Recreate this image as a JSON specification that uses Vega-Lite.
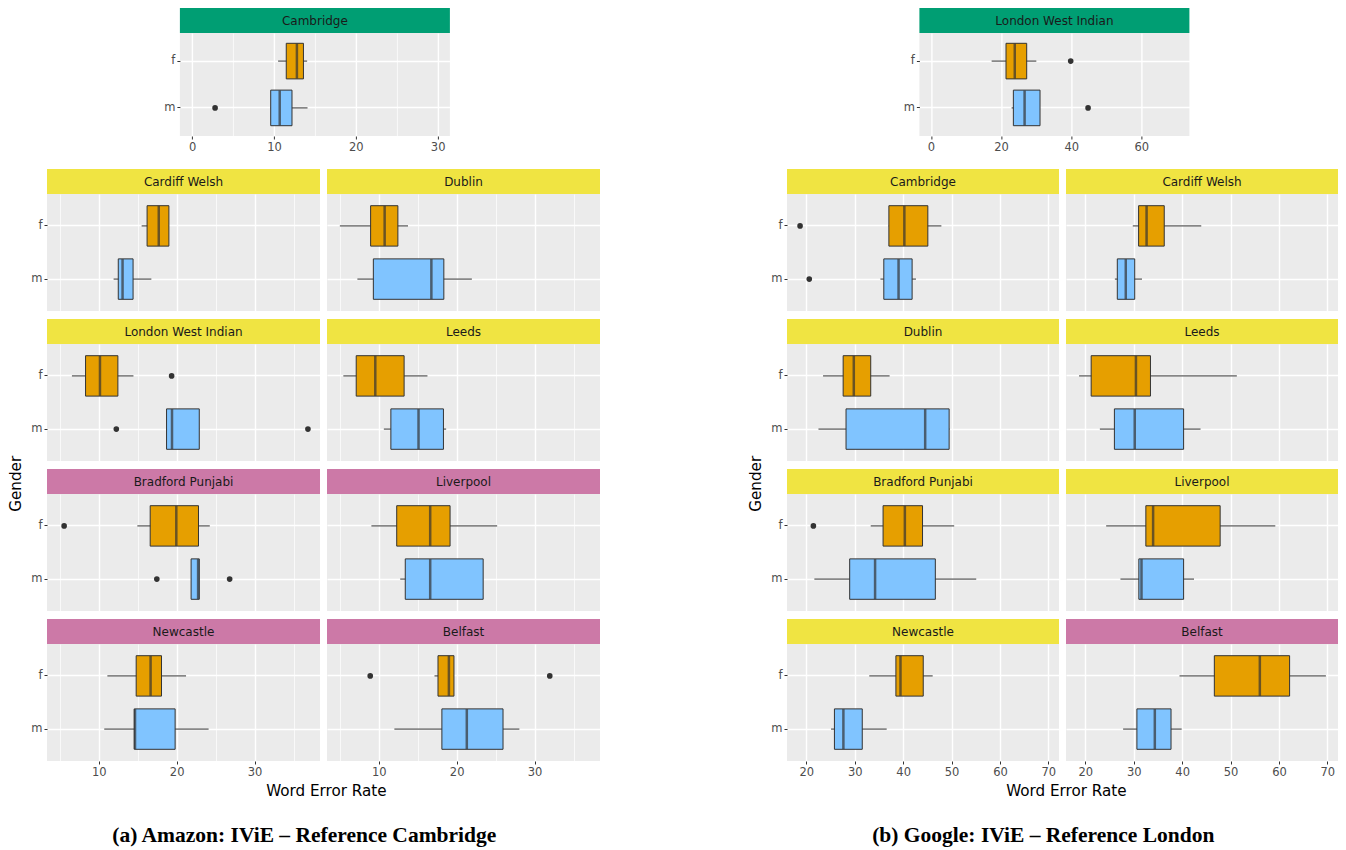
{
"$schema": "https://vega.github.io/schema/vega-lite/v6.json",
"padding": {"left": 8, "top": 8, "right": 5, "bottom": 5},
"background": "white",
"datasets": {
"box": [
{"panel":"A0","gender":"f","lo":10.5,"q1":11.5,"med":12.8,"q3":13.6,"hi":14.05},
{"panel":"A0","gender":"m","lo":9.6,"q1":9.6,"med":10.7,"q3":12.2,"hi":14.1},
{"panel":"A1","gender":"f","lo":15.5,"q1":16.2,"med":17.7,"q3":19.0,"hi":19.0},
{"panel":"A1","gender":"m","lo":11.9,"q1":12.5,"med":13.05,"q3":14.4,"hi":16.75},
{"panel":"A2","gender":"f","lo":5.0,"q1":8.95,"med":10.75,"q3":12.45,"hi":13.75},
{"panel":"A2","gender":"m","lo":7.25,"q1":9.3,"med":16.75,"q3":18.35,"hi":21.95},
{"panel":"A3","gender":"f","lo":6.55,"q1":8.3,"med":10.15,"q3":12.45,"hi":14.45},
{"panel":"A3","gender":"m","lo":18.7,"q1":18.7,"med":19.4,"q3":22.9,"hi":22.9},
{"panel":"A4","gender":"f","lo":5.45,"q1":7.1,"med":9.55,"q3":13.25,"hi":16.25},
{"panel":"A4","gender":"m","lo":10.65,"q1":11.55,"med":15.1,"q3":18.3,"hi":18.65},
{"panel":"A5","gender":"f","lo":14.95,"q1":16.6,"med":19.95,"q3":22.8,"hi":24.25},
{"panel":"A5","gender":"m","lo":21.85,"q1":21.85,"med":22.75,"q3":22.9,"hi":22.9},
{"panel":"A6","gender":"f","lo":9.05,"q1":12.3,"med":16.6,"q3":19.15,"hi":25.2},
{"panel":"A6","gender":"m","lo":12.75,"q1":13.4,"med":16.6,"q3":23.4,"hi":23.4},
{"panel":"A7","gender":"f","lo":11.1,"q1":14.8,"med":16.65,"q3":18.05,"hi":21.2},
{"panel":"A7","gender":"m","lo":10.7,"q1":14.55,"med":14.65,"q3":19.8,"hi":24.1},
{"panel":"A8","gender":"f","lo":17.15,"q1":17.6,"med":19.0,"q3":19.65,"hi":19.65},
{"panel":"A8","gender":"m","lo":12.0,"q1":18.1,"med":21.3,"q3":25.95,"hi":28.05},
{"panel":"B0","gender":"f","lo":17.3,"q1":21.4,"med":23.9,"q3":27.3,"hi":30.05},
{"panel":"B0","gender":"m","lo":23.0,"q1":23.5,"med":26.7,"q3":31.1,"hi":31.1},
{"panel":"B1","gender":"f","lo":37.0,"q1":37.05,"med":40.25,"q3":45.1,"hi":47.9},
{"panel":"B1","gender":"m","lo":35.3,"q1":36.0,"med":39.05,"q3":41.85,"hi":42.65},
{"panel":"B2","gender":"f","lo":29.8,"q1":31.0,"med":32.65,"q3":36.3,"hi":43.95},
{"panel":"B2","gender":"m","lo":26.1,"q1":26.6,"med":28.35,"q3":30.2,"hi":31.7},
{"panel":"B3","gender":"f","lo":23.45,"q1":27.6,"med":29.8,"q3":33.3,"hi":37.2},
{"panel":"B3","gender":"m","lo":22.5,"q1":28.2,"med":44.55,"q3":49.5,"hi":49.6},
{"panel":"B4","gender":"f","lo":18.7,"q1":21.2,"med":30.45,"q3":33.45,"hi":51.3},
{"panel":"B4","gender":"m","lo":23.0,"q1":26.0,"med":30.2,"q3":40.3,"hi":43.8},
{"panel":"B5","gender":"f","lo":33.3,"q1":35.85,"med":40.35,"q3":44.0,"hi":50.55},
{"panel":"B5","gender":"m","lo":21.65,"q1":28.95,"med":34.2,"q3":46.65,"hi":55.1},
{"panel":"B6","gender":"f","lo":24.3,"q1":32.5,"med":34.0,"q3":47.85,"hi":59.25},
{"panel":"B6","gender":"m","lo":27.25,"q1":31.05,"med":31.6,"q3":40.3,"hi":42.45},
{"panel":"B7","gender":"f","lo":33.0,"q1":38.5,"med":39.45,"q3":44.15,"hi":46.1},
{"panel":"B7","gender":"m","lo":25.1,"q1":25.8,"med":27.65,"q3":31.55,"hi":36.6},
{"panel":"B8","gender":"f","lo":39.45,"q1":46.65,"med":56.05,"q3":62.2,"hi":69.7},
{"panel":"B8","gender":"m","lo":27.8,"q1":30.65,"med":34.35,"q3":37.7,"hi":39.9}
],
"out": [
{"panel":"A0","gender":"m","value":2.8},
{"panel":"A3","gender":"f","value":19.35},
{"panel":"A3","gender":"m","value":12.25},
{"panel":"A3","gender":"m","value":36.85},
{"panel":"A5","gender":"f","value":5.55},
{"panel":"A5","gender":"m","value":17.45},
{"panel":"A5","gender":"m","value":26.8},
{"panel":"A8","gender":"f","value":8.9},
{"panel":"A8","gender":"f","value":31.95},
{"panel":"B0","gender":"f","value":39.85},
{"panel":"B0","gender":"m","value":44.8},
{"panel":"B1","gender":"f","value":18.7},
{"panel":"B1","gender":"m","value":20.6},
{"panel":"B5","gender":"f","value":21.45}
],
"strips": [
{"panel":"A0","region":"Cambridge"},
{"panel":"A1","region":"Cardiff Welsh"},
{"panel":"A2","region":"Dublin"},
{"panel":"A3","region":"London West Indian"},
{"panel":"A4","region":"Leeds"},
{"panel":"A5","region":"Bradford Punjabi"},
{"panel":"A6","region":"Liverpool"},
{"panel":"A7","region":"Newcastle"},
{"panel":"A8","region":"Belfast"},
{"panel":"B0","region":"London West Indian"},
{"panel":"B1","region":"Cambridge"},
{"panel":"B2","region":"Cardiff Welsh"},
{"panel":"B3","region":"Dublin"},
{"panel":"B4","region":"Leeds"},
{"panel":"B5","region":"Bradford Punjabi"},
{"panel":"B6","region":"Liverpool"},
{"panel":"B7","region":"Newcastle"},
{"panel":"B8","region":"Belfast"}
]
},
"config": {
"view": {"fill": "#EBEBEB", "stroke": null},
"font": "DejaVu Sans",
"axis": {"domain": false, "gridColor": "#FFFFFF", "tickColor": "#333333", "tickSize": 3, "labelColor": "#4D4D4D", "labelFontSize": 11.5, "labelFont": "DejaVu Sans", "labelPadding": 2},
"axisY": {"bandPosition": 0.5, "gridWidth": 1.4},
"rule": {"color": "#333333", "strokeWidth": 1},
"bar": {"stroke": "#333333", "strokeWidth": 1},
"tick": {"color": "#333333", "thickness": 2.5},
"point": {"filled": true, "color": "#333333", "size": 32, "opacity": 1},
"text": {"fontSize": 12, "color": "#1A1A1A", "font": "DejaVu Sans"},
"title": {"font": "DejaVu Sans", "fontSize": 15.2, "fontWeight": "normal", "color": "#000000"}
},
"spacing": 148,
"hconcat": [
{
"spacing": 16, "center": true,
"title": {"text": "(a) Amazon: IViE – Reference Cambridge", "orient": "bottom", "anchor": "middle", "font": "Liberation Serif", "fontSize": 21.5, "fontWeight": "bold", "color": "#000000", "offset": 26},
"vconcat": [
{"bounds": "flush", "spacing": 0, "vconcat": [
{"width": 270, "height": 25, "view": {"fill": "#009E73", "stroke": null}, "data": {"name": "strips"}, "transform": [{"filter": "datum.panel === 'A0'"}], "mark": "text", "encoding": {"text": {"field": "region", "type": "nominal"}}},
{"width": 270, "height": 103, "resolve": {"axis": {"y": "independent"}}, "layer": [
{"data": {"name": "box"}, "transform": [{"filter": "datum.panel === 'A0'"}], "mark": "rule", "encoding": {"y": {"field": "gender", "type": "nominal", "scale": {"domain": ["f","m"], "paddingInner": 0.24, "paddingOuter": 0.22}, "axis": {"title": null, "grid": true}}, "x": {"field": "lo", "type": "quantitative", "scale": {"domain": [-1.5, 31.5], "nice": false, "zero": false}, "axis": {"title": null, "values": [0,5,10,15,20,25,30], "grid": true, "gridWidth": {"condition": {"test": "datum.value % 10 === 0", "value": 1.4}, "value": 0.7}, "labelExpr": "datum.value % 10 === 0 ? datum.label : ''", "tickOpacity": {"condition": {"test": "datum.value % 10 === 0", "value": 1}, "value": 0}}}, "x2": {"field": "hi"}}},
{"data": {"name": "box"}, "transform": [{"filter": "datum.panel === 'A0'"}], "mark": "bar", "encoding": {"y": {"field": "gender", "type": "nominal", "axis": null}, "x": {"field": "q1", "type": "quantitative"}, "x2": {"field": "q3"}, "fill": {"field": "gender", "type": "nominal", "scale": {"domain": ["f","m"], "range": ["#E69F00","#80C4FF"]}, "legend": null}}},
{"data": {"name": "box"}, "transform": [{"filter": "datum.panel === 'A0'"}], "mark": {"type": "tick", "size": 35}, "encoding": {"y": {"field": "gender", "type": "nominal", "axis": null}, "x": {"field": "med", "type": "quantitative"}}},
{"data": {"name": "out"}, "transform": [{"filter": "datum.panel === 'A0'"}], "mark": "point", "encoding": {"y": {"field": "gender", "type": "nominal", "axis": {"orient": "right", "title": null, "grid": false, "ticks": false, "labelOpacity": 0, "labelPadding": 6}}, "x": {"field": "value", "type": "quantitative"}}}
]}
]},
{"title": {"text": "Gender", "orient": "left", "anchor": "middle", "offset": 7},
"vconcat": [
{"title": {"text": "Word Error Rate", "orient": "bottom", "anchor": "middle", "offset": 6, "dx": 11},
"spacing": 8,
"vconcat": [
{"spacing": 7, "hconcat": [
{"bounds": "flush", "spacing": 0, "vconcat": [
{"width": 273, "height": 25, "view": {"fill": "#F0E442", "stroke": null}, "data": {"name": "strips"}, "transform": [{"filter": "datum.panel === 'A1'"}], "mark": "text", "encoding": {"text": {"field": "region", "type": "nominal"}}},
{"width": 273, "height": 117, "layer": [
{"data": {"name": "box"}, "transform": [{"filter": "datum.panel === 'A1'"}], "mark": "rule", "encoding": {"y": {"field": "gender", "type": "nominal", "scale": {"domain": ["f","m"], "paddingInner": 0.24, "paddingOuter": 0.22}, "axis": {"title": null, "grid": true}}, "x": {"field": "lo", "type": "quantitative", "scale": {"domain": [3.35, 38.4], "nice": false, "zero": false}, "axis": {"title": null, "values": [5,10,15,20,25,30,35], "labels": false, "ticks": false, "grid": true, "gridWidth": {"condition": {"test": "datum.value % 10 === 0", "value": 1.4}, "value": 0.7}}}, "x2": {"field": "hi"}}},
{"data": {"name": "box"}, "transform": [{"filter": "datum.panel === 'A1'"}], "mark": "bar", "encoding": {"y": {"field": "gender", "type": "nominal"}, "x": {"field": "q1", "type": "quantitative"}, "x2": {"field": "q3"}, "fill": {"field": "gender", "type": "nominal", "scale": {"domain": ["f","m"], "range": ["#E69F00","#80C4FF"]}, "legend": null}}},
{"data": {"name": "box"}, "transform": [{"filter": "datum.panel === 'A1'"}], "mark": {"type": "tick", "size": 40}, "encoding": {"y": {"field": "gender", "type": "nominal"}, "x": {"field": "med", "type": "quantitative"}}},
{"data": {"name": "out"}, "transform": [{"filter": "datum.panel === 'A1'"}], "mark": "point", "encoding": {"y": {"field": "gender", "type": "nominal"}, "x": {"field": "value", "type": "quantitative"}}}
]}
]},
{"bounds": "flush", "spacing": 0, "vconcat": [
{"width": 273, "height": 25, "view": {"fill": "#F0E442", "stroke": null}, "data": {"name": "strips"}, "transform": [{"filter": "datum.panel === 'A2'"}], "mark": "text", "encoding": {"text": {"field": "region", "type": "nominal"}}},
{"width": 273, "height": 117, "layer": [
{"data": {"name": "box"}, "transform": [{"filter": "datum.panel === 'A2'"}], "mark": "rule", "encoding": {"y": {"field": "gender", "type": "nominal", "scale": {"domain": ["f","m"], "paddingInner": 0.24, "paddingOuter": 0.22}, "axis": {"title": null, "grid": true, "labels": false, "ticks": false}}, "x": {"field": "lo", "type": "quantitative", "scale": {"domain": [3.35, 38.4], "nice": false, "zero": false}, "axis": {"title": null, "values": [5,10,15,20,25,30,35], "labels": false, "ticks": false, "grid": true, "gridWidth": {"condition": {"test": "datum.value % 10 === 0", "value": 1.4}, "value": 0.7}}}, "x2": {"field": "hi"}}},
{"data": {"name": "box"}, "transform": [{"filter": "datum.panel === 'A2'"}], "mark": "bar", "encoding": {"y": {"field": "gender", "type": "nominal"}, "x": {"field": "q1", "type": "quantitative"}, "x2": {"field": "q3"}, "fill": {"field": "gender", "type": "nominal", "scale": {"domain": ["f","m"], "range": ["#E69F00","#80C4FF"]}, "legend": null}}},
{"data": {"name": "box"}, "transform": [{"filter": "datum.panel === 'A2'"}], "mark": {"type": "tick", "size": 40}, "encoding": {"y": {"field": "gender", "type": "nominal"}, "x": {"field": "med", "type": "quantitative"}}},
{"data": {"name": "out"}, "transform": [{"filter": "datum.panel === 'A2'"}], "mark": "point", "encoding": {"y": {"field": "gender", "type": "nominal"}, "x": {"field": "value", "type": "quantitative"}}}
]}
]}
]},
{"spacing": 7, "hconcat": [
{"bounds": "flush", "spacing": 0, "vconcat": [
{"width": 273, "height": 25, "view": {"fill": "#F0E442", "stroke": null}, "data": {"name": "strips"}, "transform": [{"filter": "datum.panel === 'A3'"}], "mark": "text", "encoding": {"text": {"field": "region", "type": "nominal"}}},
{"width": 273, "height": 117, "layer": [
{"data": {"name": "box"}, "transform": [{"filter": "datum.panel === 'A3'"}], "mark": "rule", "encoding": {"y": {"field": "gender", "type": "nominal", "scale": {"domain": ["f","m"], "paddingInner": 0.24, "paddingOuter": 0.22}, "axis": {"title": null, "grid": true}}, "x": {"field": "lo", "type": "quantitative", "scale": {"domain": [3.35, 38.4], "nice": false, "zero": false}, "axis": {"title": null, "values": [5,10,15,20,25,30,35], "labels": false, "ticks": false, "grid": true, "gridWidth": {"condition": {"test": "datum.value % 10 === 0", "value": 1.4}, "value": 0.7}}}, "x2": {"field": "hi"}}},
{"data": {"name": "box"}, "transform": [{"filter": "datum.panel === 'A3'"}], "mark": "bar", "encoding": {"y": {"field": "gender", "type": "nominal"}, "x": {"field": "q1", "type": "quantitative"}, "x2": {"field": "q3"}, "fill": {"field": "gender", "type": "nominal", "scale": {"domain": ["f","m"], "range": ["#E69F00","#80C4FF"]}, "legend": null}}},
{"data": {"name": "box"}, "transform": [{"filter": "datum.panel === 'A3'"}], "mark": {"type": "tick", "size": 40}, "encoding": {"y": {"field": "gender", "type": "nominal"}, "x": {"field": "med", "type": "quantitative"}}},
{"data": {"name": "out"}, "transform": [{"filter": "datum.panel === 'A3'"}], "mark": "point", "encoding": {"y": {"field": "gender", "type": "nominal"}, "x": {"field": "value", "type": "quantitative"}}}
]}
]},
{"bounds": "flush", "spacing": 0, "vconcat": [
{"width": 273, "height": 25, "view": {"fill": "#F0E442", "stroke": null}, "data": {"name": "strips"}, "transform": [{"filter": "datum.panel === 'A4'"}], "mark": "text", "encoding": {"text": {"field": "region", "type": "nominal"}}},
{"width": 273, "height": 117, "layer": [
{"data": {"name": "box"}, "transform": [{"filter": "datum.panel === 'A4'"}], "mark": "rule", "encoding": {"y": {"field": "gender", "type": "nominal", "scale": {"domain": ["f","m"], "paddingInner": 0.24, "paddingOuter": 0.22}, "axis": {"title": null, "grid": true, "labels": false, "ticks": false}}, "x": {"field": "lo", "type": "quantitative", "scale": {"domain": [3.35, 38.4], "nice": false, "zero": false}, "axis": {"title": null, "values": [5,10,15,20,25,30,35], "labels": false, "ticks": false, "grid": true, "gridWidth": {"condition": {"test": "datum.value % 10 === 0", "value": 1.4}, "value": 0.7}}}, "x2": {"field": "hi"}}},
{"data": {"name": "box"}, "transform": [{"filter": "datum.panel === 'A4'"}], "mark": "bar", "encoding": {"y": {"field": "gender", "type": "nominal"}, "x": {"field": "q1", "type": "quantitative"}, "x2": {"field": "q3"}, "fill": {"field": "gender", "type": "nominal", "scale": {"domain": ["f","m"], "range": ["#E69F00","#80C4FF"]}, "legend": null}}},
{"data": {"name": "box"}, "transform": [{"filter": "datum.panel === 'A4'"}], "mark": {"type": "tick", "size": 40}, "encoding": {"y": {"field": "gender", "type": "nominal"}, "x": {"field": "med", "type": "quantitative"}}},
{"data": {"name": "out"}, "transform": [{"filter": "datum.panel === 'A4'"}], "mark": "point", "encoding": {"y": {"field": "gender", "type": "nominal"}, "x": {"field": "value", "type": "quantitative"}}}
]}
]}
]},
{"spacing": 7, "hconcat": [
{"bounds": "flush", "spacing": 0, "vconcat": [
{"width": 273, "height": 25, "view": {"fill": "#CC79A7", "stroke": null}, "data": {"name": "strips"}, "transform": [{"filter": "datum.panel === 'A5'"}], "mark": "text", "encoding": {"text": {"field": "region", "type": "nominal"}}},
{"width": 273, "height": 117, "layer": [
{"data": {"name": "box"}, "transform": [{"filter": "datum.panel === 'A5'"}], "mark": "rule", "encoding": {"y": {"field": "gender", "type": "nominal", "scale": {"domain": ["f","m"], "paddingInner": 0.24, "paddingOuter": 0.22}, "axis": {"title": null, "grid": true}}, "x": {"field": "lo", "type": "quantitative", "scale": {"domain": [3.35, 38.4], "nice": false, "zero": false}, "axis": {"title": null, "values": [5,10,15,20,25,30,35], "labels": false, "ticks": false, "grid": true, "gridWidth": {"condition": {"test": "datum.value % 10 === 0", "value": 1.4}, "value": 0.7}}}, "x2": {"field": "hi"}}},
{"data": {"name": "box"}, "transform": [{"filter": "datum.panel === 'A5'"}], "mark": "bar", "encoding": {"y": {"field": "gender", "type": "nominal"}, "x": {"field": "q1", "type": "quantitative"}, "x2": {"field": "q3"}, "fill": {"field": "gender", "type": "nominal", "scale": {"domain": ["f","m"], "range": ["#E69F00","#80C4FF"]}, "legend": null}}},
{"data": {"name": "box"}, "transform": [{"filter": "datum.panel === 'A5'"}], "mark": {"type": "tick", "size": 40}, "encoding": {"y": {"field": "gender", "type": "nominal"}, "x": {"field": "med", "type": "quantitative"}}},
{"data": {"name": "out"}, "transform": [{"filter": "datum.panel === 'A5'"}], "mark": "point", "encoding": {"y": {"field": "gender", "type": "nominal"}, "x": {"field": "value", "type": "quantitative"}}}
]}
]},
{"bounds": "flush", "spacing": 0, "vconcat": [
{"width": 273, "height": 25, "view": {"fill": "#CC79A7", "stroke": null}, "data": {"name": "strips"}, "transform": [{"filter": "datum.panel === 'A6'"}], "mark": "text", "encoding": {"text": {"field": "region", "type": "nominal"}}},
{"width": 273, "height": 117, "layer": [
{"data": {"name": "box"}, "transform": [{"filter": "datum.panel === 'A6'"}], "mark": "rule", "encoding": {"y": {"field": "gender", "type": "nominal", "scale": {"domain": ["f","m"], "paddingInner": 0.24, "paddingOuter": 0.22}, "axis": {"title": null, "grid": true, "labels": false, "ticks": false}}, "x": {"field": "lo", "type": "quantitative", "scale": {"domain": [3.35, 38.4], "nice": false, "zero": false}, "axis": {"title": null, "values": [5,10,15,20,25,30,35], "labels": false, "ticks": false, "grid": true, "gridWidth": {"condition": {"test": "datum.value % 10 === 0", "value": 1.4}, "value": 0.7}}}, "x2": {"field": "hi"}}},
{"data": {"name": "box"}, "transform": [{"filter": "datum.panel === 'A6'"}], "mark": "bar", "encoding": {"y": {"field": "gender", "type": "nominal"}, "x": {"field": "q1", "type": "quantitative"}, "x2": {"field": "q3"}, "fill": {"field": "gender", "type": "nominal", "scale": {"domain": ["f","m"], "range": ["#E69F00","#80C4FF"]}, "legend": null}}},
{"data": {"name": "box"}, "transform": [{"filter": "datum.panel === 'A6'"}], "mark": {"type": "tick", "size": 40}, "encoding": {"y": {"field": "gender", "type": "nominal"}, "x": {"field": "med", "type": "quantitative"}}},
{"data": {"name": "out"}, "transform": [{"filter": "datum.panel === 'A6'"}], "mark": "point", "encoding": {"y": {"field": "gender", "type": "nominal"}, "x": {"field": "value", "type": "quantitative"}}}
]}
]}
]},
{"spacing": 7, "hconcat": [
{"bounds": "flush", "spacing": 0, "vconcat": [
{"width": 273, "height": 25, "view": {"fill": "#CC79A7", "stroke": null}, "data": {"name": "strips"}, "transform": [{"filter": "datum.panel === 'A7'"}], "mark": "text", "encoding": {"text": {"field": "region", "type": "nominal"}}},
{"width": 273, "height": 117, "layer": [
{"data": {"name": "box"}, "transform": [{"filter": "datum.panel === 'A7'"}], "mark": "rule", "encoding": {"y": {"field": "gender", "type": "nominal", "scale": {"domain": ["f","m"], "paddingInner": 0.24, "paddingOuter": 0.22}, "axis": {"title": null, "grid": true}}, "x": {"field": "lo", "type": "quantitative", "scale": {"domain": [3.35, 38.4], "nice": false, "zero": false}, "axis": {"title": null, "values": [5,10,15,20,25,30,35], "grid": true, "gridWidth": {"condition": {"test": "datum.value % 10 === 0", "value": 1.4}, "value": 0.7}, "labelExpr": "datum.value % 10 === 0 ? datum.label : ''", "tickOpacity": {"condition": {"test": "datum.value % 10 === 0", "value": 1}, "value": 0}}}, "x2": {"field": "hi"}}},
{"data": {"name": "box"}, "transform": [{"filter": "datum.panel === 'A7'"}], "mark": "bar", "encoding": {"y": {"field": "gender", "type": "nominal"}, "x": {"field": "q1", "type": "quantitative"}, "x2": {"field": "q3"}, "fill": {"field": "gender", "type": "nominal", "scale": {"domain": ["f","m"], "range": ["#E69F00","#80C4FF"]}, "legend": null}}},
{"data": {"name": "box"}, "transform": [{"filter": "datum.panel === 'A7'"}], "mark": {"type": "tick", "size": 40}, "encoding": {"y": {"field": "gender", "type": "nominal"}, "x": {"field": "med", "type": "quantitative"}}},
{"data": {"name": "out"}, "transform": [{"filter": "datum.panel === 'A7'"}], "mark": "point", "encoding": {"y": {"field": "gender", "type": "nominal"}, "x": {"field": "value", "type": "quantitative"}}}
]}
]},
{"bounds": "flush", "spacing": 0, "vconcat": [
{"width": 273, "height": 25, "view": {"fill": "#CC79A7", "stroke": null}, "data": {"name": "strips"}, "transform": [{"filter": "datum.panel === 'A8'"}], "mark": "text", "encoding": {"text": {"field": "region", "type": "nominal"}}},
{"width": 273, "height": 117, "layer": [
{"data": {"name": "box"}, "transform": [{"filter": "datum.panel === 'A8'"}], "mark": "rule", "encoding": {"y": {"field": "gender", "type": "nominal", "scale": {"domain": ["f","m"], "paddingInner": 0.24, "paddingOuter": 0.22}, "axis": {"title": null, "grid": true, "labels": false, "ticks": false}}, "x": {"field": "lo", "type": "quantitative", "scale": {"domain": [3.35, 38.4], "nice": false, "zero": false}, "axis": {"title": null, "values": [5,10,15,20,25,30,35], "grid": true, "gridWidth": {"condition": {"test": "datum.value % 10 === 0", "value": 1.4}, "value": 0.7}, "labelExpr": "datum.value % 10 === 0 ? datum.label : ''", "tickOpacity": {"condition": {"test": "datum.value % 10 === 0", "value": 1}, "value": 0}}}, "x2": {"field": "hi"}}},
{"data": {"name": "box"}, "transform": [{"filter": "datum.panel === 'A8'"}], "mark": "bar", "encoding": {"y": {"field": "gender", "type": "nominal"}, "x": {"field": "q1", "type": "quantitative"}, "x2": {"field": "q3"}, "fill": {"field": "gender", "type": "nominal", "scale": {"domain": ["f","m"], "range": ["#E69F00","#80C4FF"]}, "legend": null}}},
{"data": {"name": "box"}, "transform": [{"filter": "datum.panel === 'A8'"}], "mark": {"type": "tick", "size": 40}, "encoding": {"y": {"field": "gender", "type": "nominal"}, "x": {"field": "med", "type": "quantitative"}}},
{"data": {"name": "out"}, "transform": [{"filter": "datum.panel === 'A8'"}], "mark": "point", "encoding": {"y": {"field": "gender", "type": "nominal"}, "x": {"field": "value", "type": "quantitative"}}}
]}
]}
]}
]}
]}
]
},
{
"spacing": 16, "center": true,
"title": {"text": "(b) Google: IViE – Reference London", "orient": "bottom", "anchor": "middle", "font": "Liberation Serif", "fontSize": 21.5, "fontWeight": "bold", "color": "#000000", "offset": 26},
"vconcat": [
{"bounds": "flush", "spacing": 0, "vconcat": [
{"width": 270, "height": 25, "view": {"fill": "#009E73", "stroke": null}, "data": {"name": "strips"}, "transform": [{"filter": "datum.panel === 'B0'"}], "mark": "text", "encoding": {"text": {"field": "region", "type": "nominal"}}},
{"width": 270, "height": 103, "resolve": {"axis": {"y": "independent"}}, "layer": [
{"data": {"name": "box"}, "transform": [{"filter": "datum.panel === 'B0'"}], "mark": "rule", "encoding": {"y": {"field": "gender", "type": "nominal", "scale": {"domain": ["f","m"], "paddingInner": 0.24, "paddingOuter": 0.22}, "axis": {"title": null, "grid": true}}, "x": {"field": "lo", "type": "quantitative", "scale": {"domain": [-3.3, 73.7], "nice": false, "zero": false}, "axis": {"title": null, "values": [0,10,20,30,40,50,60,70], "grid": true, "gridWidth": {"condition": {"test": "datum.value % 20 === 0", "value": 1.4}, "value": 0.7}, "labelExpr": "datum.value % 20 === 0 ? datum.label : ''", "tickOpacity": {"condition": {"test": "datum.value % 20 === 0", "value": 1}, "value": 0}}}, "x2": {"field": "hi"}}},
{"data": {"name": "box"}, "transform": [{"filter": "datum.panel === 'B0'"}], "mark": "bar", "encoding": {"y": {"field": "gender", "type": "nominal", "axis": null}, "x": {"field": "q1", "type": "quantitative"}, "x2": {"field": "q3"}, "fill": {"field": "gender", "type": "nominal", "scale": {"domain": ["f","m"], "range": ["#E69F00","#80C4FF"]}, "legend": null}}},
{"data": {"name": "box"}, "transform": [{"filter": "datum.panel === 'B0'"}], "mark": {"type": "tick", "size": 35}, "encoding": {"y": {"field": "gender", "type": "nominal", "axis": null}, "x": {"field": "med", "type": "quantitative"}}},
{"data": {"name": "out"}, "transform": [{"filter": "datum.panel === 'B0'"}], "mark": "point", "encoding": {"y": {"field": "gender", "type": "nominal", "axis": {"orient": "right", "title": null, "grid": false, "ticks": false, "labelOpacity": 0, "labelPadding": 5}}, "x": {"field": "value", "type": "quantitative"}}}
]}
]},
{"title": {"text": "Gender", "orient": "left", "anchor": "middle", "offset": 7},
"vconcat": [
{"title": {"text": "Word Error Rate", "orient": "bottom", "anchor": "middle", "offset": 6, "dx": 12},
"spacing": 8,
"vconcat": [
{"spacing": 7, "hconcat": [
{"bounds": "flush", "spacing": 0, "vconcat": [
{"width": 272, "height": 25, "view": {"fill": "#F0E442", "stroke": null}, "data": {"name": "strips"}, "transform": [{"filter": "datum.panel === 'B1'"}], "mark": "text", "encoding": {"text": {"field": "region", "type": "nominal"}}},
{"width": 272, "height": 117, "layer": [
{"data": {"name": "box"}, "transform": [{"filter": "datum.panel === 'B1'"}], "mark": "rule", "encoding": {"y": {"field": "gender", "type": "nominal", "scale": {"domain": ["f","m"], "paddingInner": 0.24, "paddingOuter": 0.22}, "axis": {"title": null, "grid": true}}, "x": {"field": "lo", "type": "quantitative", "scale": {"domain": [16.0, 72.2], "nice": false, "zero": false}, "axis": {"title": null, "values": [20,25,30,35,40,45,50,55,60,65,70], "labels": false, "ticks": false, "grid": true, "gridWidth": {"condition": {"test": "datum.value % 10 === 0", "value": 1.4}, "value": 0.7}}}, "x2": {"field": "hi"}}},
{"data": {"name": "box"}, "transform": [{"filter": "datum.panel === 'B1'"}], "mark": "bar", "encoding": {"y": {"field": "gender", "type": "nominal"}, "x": {"field": "q1", "type": "quantitative"}, "x2": {"field": "q3"}, "fill": {"field": "gender", "type": "nominal", "scale": {"domain": ["f","m"], "range": ["#E69F00","#80C4FF"]}, "legend": null}}},
{"data": {"name": "box"}, "transform": [{"filter": "datum.panel === 'B1'"}], "mark": {"type": "tick", "size": 40}, "encoding": {"y": {"field": "gender", "type": "nominal"}, "x": {"field": "med", "type": "quantitative"}}},
{"data": {"name": "out"}, "transform": [{"filter": "datum.panel === 'B1'"}], "mark": "point", "encoding": {"y": {"field": "gender", "type": "nominal"}, "x": {"field": "value", "type": "quantitative"}}}
]}
]},
{"bounds": "flush", "spacing": 0, "vconcat": [
{"width": 272, "height": 25, "view": {"fill": "#F0E442", "stroke": null}, "data": {"name": "strips"}, "transform": [{"filter": "datum.panel === 'B2'"}], "mark": "text", "encoding": {"text": {"field": "region", "type": "nominal"}}},
{"width": 272, "height": 117, "layer": [
{"data": {"name": "box"}, "transform": [{"filter": "datum.panel === 'B2'"}], "mark": "rule", "encoding": {"y": {"field": "gender", "type": "nominal", "scale": {"domain": ["f","m"], "paddingInner": 0.24, "paddingOuter": 0.22}, "axis": {"title": null, "grid": true, "labels": false, "ticks": false}}, "x": {"field": "lo", "type": "quantitative", "scale": {"domain": [16.0, 72.2], "nice": false, "zero": false}, "axis": {"title": null, "values": [20,25,30,35,40,45,50,55,60,65,70], "labels": false, "ticks": false, "grid": true, "gridWidth": {"condition": {"test": "datum.value % 10 === 0", "value": 1.4}, "value": 0.7}}}, "x2": {"field": "hi"}}},
{"data": {"name": "box"}, "transform": [{"filter": "datum.panel === 'B2'"}], "mark": "bar", "encoding": {"y": {"field": "gender", "type": "nominal"}, "x": {"field": "q1", "type": "quantitative"}, "x2": {"field": "q3"}, "fill": {"field": "gender", "type": "nominal", "scale": {"domain": ["f","m"], "range": ["#E69F00","#80C4FF"]}, "legend": null}}},
{"data": {"name": "box"}, "transform": [{"filter": "datum.panel === 'B2'"}], "mark": {"type": "tick", "size": 40}, "encoding": {"y": {"field": "gender", "type": "nominal"}, "x": {"field": "med", "type": "quantitative"}}},
{"data": {"name": "out"}, "transform": [{"filter": "datum.panel === 'B2'"}], "mark": "point", "encoding": {"y": {"field": "gender", "type": "nominal"}, "x": {"field": "value", "type": "quantitative"}}}
]}
]}
]},
{"spacing": 7, "hconcat": [
{"bounds": "flush", "spacing": 0, "vconcat": [
{"width": 272, "height": 25, "view": {"fill": "#F0E442", "stroke": null}, "data": {"name": "strips"}, "transform": [{"filter": "datum.panel === 'B3'"}], "mark": "text", "encoding": {"text": {"field": "region", "type": "nominal"}}},
{"width": 272, "height": 117, "layer": [
{"data": {"name": "box"}, "transform": [{"filter": "datum.panel === 'B3'"}], "mark": "rule", "encoding": {"y": {"field": "gender", "type": "nominal", "scale": {"domain": ["f","m"], "paddingInner": 0.24, "paddingOuter": 0.22}, "axis": {"title": null, "grid": true}}, "x": {"field": "lo", "type": "quantitative", "scale": {"domain": [16.0, 72.2], "nice": false, "zero": false}, "axis": {"title": null, "values": [20,25,30,35,40,45,50,55,60,65,70], "labels": false, "ticks": false, "grid": true, "gridWidth": {"condition": {"test": "datum.value % 10 === 0", "value": 1.4}, "value": 0.7}}}, "x2": {"field": "hi"}}},
{"data": {"name": "box"}, "transform": [{"filter": "datum.panel === 'B3'"}], "mark": "bar", "encoding": {"y": {"field": "gender", "type": "nominal"}, "x": {"field": "q1", "type": "quantitative"}, "x2": {"field": "q3"}, "fill": {"field": "gender", "type": "nominal", "scale": {"domain": ["f","m"], "range": ["#E69F00","#80C4FF"]}, "legend": null}}},
{"data": {"name": "box"}, "transform": [{"filter": "datum.panel === 'B3'"}], "mark": {"type": "tick", "size": 40}, "encoding": {"y": {"field": "gender", "type": "nominal"}, "x": {"field": "med", "type": "quantitative"}}},
{"data": {"name": "out"}, "transform": [{"filter": "datum.panel === 'B3'"}], "mark": "point", "encoding": {"y": {"field": "gender", "type": "nominal"}, "x": {"field": "value", "type": "quantitative"}}}
]}
]},
{"bounds": "flush", "spacing": 0, "vconcat": [
{"width": 272, "height": 25, "view": {"fill": "#F0E442", "stroke": null}, "data": {"name": "strips"}, "transform": [{"filter": "datum.panel === 'B4'"}], "mark": "text", "encoding": {"text": {"field": "region", "type": "nominal"}}},
{"width": 272, "height": 117, "layer": [
{"data": {"name": "box"}, "transform": [{"filter": "datum.panel === 'B4'"}], "mark": "rule", "encoding": {"y": {"field": "gender", "type": "nominal", "scale": {"domain": ["f","m"], "paddingInner": 0.24, "paddingOuter": 0.22}, "axis": {"title": null, "grid": true, "labels": false, "ticks": false}}, "x": {"field": "lo", "type": "quantitative", "scale": {"domain": [16.0, 72.2], "nice": false, "zero": false}, "axis": {"title": null, "values": [20,25,30,35,40,45,50,55,60,65,70], "labels": false, "ticks": false, "grid": true, "gridWidth": {"condition": {"test": "datum.value % 10 === 0", "value": 1.4}, "value": 0.7}}}, "x2": {"field": "hi"}}},
{"data": {"name": "box"}, "transform": [{"filter": "datum.panel === 'B4'"}], "mark": "bar", "encoding": {"y": {"field": "gender", "type": "nominal"}, "x": {"field": "q1", "type": "quantitative"}, "x2": {"field": "q3"}, "fill": {"field": "gender", "type": "nominal", "scale": {"domain": ["f","m"], "range": ["#E69F00","#80C4FF"]}, "legend": null}}},
{"data": {"name": "box"}, "transform": [{"filter": "datum.panel === 'B4'"}], "mark": {"type": "tick", "size": 40}, "encoding": {"y": {"field": "gender", "type": "nominal"}, "x": {"field": "med", "type": "quantitative"}}},
{"data": {"name": "out"}, "transform": [{"filter": "datum.panel === 'B4'"}], "mark": "point", "encoding": {"y": {"field": "gender", "type": "nominal"}, "x": {"field": "value", "type": "quantitative"}}}
]}
]}
]},
{"spacing": 7, "hconcat": [
{"bounds": "flush", "spacing": 0, "vconcat": [
{"width": 272, "height": 25, "view": {"fill": "#F0E442", "stroke": null}, "data": {"name": "strips"}, "transform": [{"filter": "datum.panel === 'B5'"}], "mark": "text", "encoding": {"text": {"field": "region", "type": "nominal"}}},
{"width": 272, "height": 117, "layer": [
{"data": {"name": "box"}, "transform": [{"filter": "datum.panel === 'B5'"}], "mark": "rule", "encoding": {"y": {"field": "gender", "type": "nominal", "scale": {"domain": ["f","m"], "paddingInner": 0.24, "paddingOuter": 0.22}, "axis": {"title": null, "grid": true}}, "x": {"field": "lo", "type": "quantitative", "scale": {"domain": [16.0, 72.2], "nice": false, "zero": false}, "axis": {"title": null, "values": [20,25,30,35,40,45,50,55,60,65,70], "labels": false, "ticks": false, "grid": true, "gridWidth": {"condition": {"test": "datum.value % 10 === 0", "value": 1.4}, "value": 0.7}}}, "x2": {"field": "hi"}}},
{"data": {"name": "box"}, "transform": [{"filter": "datum.panel === 'B5'"}], "mark": "bar", "encoding": {"y": {"field": "gender", "type": "nominal"}, "x": {"field": "q1", "type": "quantitative"}, "x2": {"field": "q3"}, "fill": {"field": "gender", "type": "nominal", "scale": {"domain": ["f","m"], "range": ["#E69F00","#80C4FF"]}, "legend": null}}},
{"data": {"name": "box"}, "transform": [{"filter": "datum.panel === 'B5'"}], "mark": {"type": "tick", "size": 40}, "encoding": {"y": {"field": "gender", "type": "nominal"}, "x": {"field": "med", "type": "quantitative"}}},
{"data": {"name": "out"}, "transform": [{"filter": "datum.panel === 'B5'"}], "mark": "point", "encoding": {"y": {"field": "gender", "type": "nominal"}, "x": {"field": "value", "type": "quantitative"}}}
]}
]},
{"bounds": "flush", "spacing": 0, "vconcat": [
{"width": 272, "height": 25, "view": {"fill": "#F0E442", "stroke": null}, "data": {"name": "strips"}, "transform": [{"filter": "datum.panel === 'B6'"}], "mark": "text", "encoding": {"text": {"field": "region", "type": "nominal"}}},
{"width": 272, "height": 117, "layer": [
{"data": {"name": "box"}, "transform": [{"filter": "datum.panel === 'B6'"}], "mark": "rule", "encoding": {"y": {"field": "gender", "type": "nominal", "scale": {"domain": ["f","m"], "paddingInner": 0.24, "paddingOuter": 0.22}, "axis": {"title": null, "grid": true, "labels": false, "ticks": false}}, "x": {"field": "lo", "type": "quantitative", "scale": {"domain": [16.0, 72.2], "nice": false, "zero": false}, "axis": {"title": null, "values": [20,25,30,35,40,45,50,55,60,65,70], "labels": false, "ticks": false, "grid": true, "gridWidth": {"condition": {"test": "datum.value % 10 === 0", "value": 1.4}, "value": 0.7}}}, "x2": {"field": "hi"}}},
{"data": {"name": "box"}, "transform": [{"filter": "datum.panel === 'B6'"}], "mark": "bar", "encoding": {"y": {"field": "gender", "type": "nominal"}, "x": {"field": "q1", "type": "quantitative"}, "x2": {"field": "q3"}, "fill": {"field": "gender", "type": "nominal", "scale": {"domain": ["f","m"], "range": ["#E69F00","#80C4FF"]}, "legend": null}}},
{"data": {"name": "box"}, "transform": [{"filter": "datum.panel === 'B6'"}], "mark": {"type": "tick", "size": 40}, "encoding": {"y": {"field": "gender", "type": "nominal"}, "x": {"field": "med", "type": "quantitative"}}},
{"data": {"name": "out"}, "transform": [{"filter": "datum.panel === 'B6'"}], "mark": "point", "encoding": {"y": {"field": "gender", "type": "nominal"}, "x": {"field": "value", "type": "quantitative"}}}
]}
]}
]},
{"spacing": 7, "hconcat": [
{"bounds": "flush", "spacing": 0, "vconcat": [
{"width": 272, "height": 25, "view": {"fill": "#F0E442", "stroke": null}, "data": {"name": "strips"}, "transform": [{"filter": "datum.panel === 'B7'"}], "mark": "text", "encoding": {"text": {"field": "region", "type": "nominal"}}},
{"width": 272, "height": 117, "layer": [
{"data": {"name": "box"}, "transform": [{"filter": "datum.panel === 'B7'"}], "mark": "rule", "encoding": {"y": {"field": "gender", "type": "nominal", "scale": {"domain": ["f","m"], "paddingInner": 0.24, "paddingOuter": 0.22}, "axis": {"title": null, "grid": true}}, "x": {"field": "lo", "type": "quantitative", "scale": {"domain": [16.0, 72.2], "nice": false, "zero": false}, "axis": {"title": null, "values": [20,25,30,35,40,45,50,55,60,65,70], "grid": true, "gridWidth": {"condition": {"test": "datum.value % 10 === 0", "value": 1.4}, "value": 0.7}, "labelExpr": "datum.value % 10 === 0 ? datum.label : ''", "tickOpacity": {"condition": {"test": "datum.value % 10 === 0", "value": 1}, "value": 0}}}, "x2": {"field": "hi"}}},
{"data": {"name": "box"}, "transform": [{"filter": "datum.panel === 'B7'"}], "mark": "bar", "encoding": {"y": {"field": "gender", "type": "nominal"}, "x": {"field": "q1", "type": "quantitative"}, "x2": {"field": "q3"}, "fill": {"field": "gender", "type": "nominal", "scale": {"domain": ["f","m"], "range": ["#E69F00","#80C4FF"]}, "legend": null}}},
{"data": {"name": "box"}, "transform": [{"filter": "datum.panel === 'B7'"}], "mark": {"type": "tick", "size": 40}, "encoding": {"y": {"field": "gender", "type": "nominal"}, "x": {"field": "med", "type": "quantitative"}}},
{"data": {"name": "out"}, "transform": [{"filter": "datum.panel === 'B7'"}], "mark": "point", "encoding": {"y": {"field": "gender", "type": "nominal"}, "x": {"field": "value", "type": "quantitative"}}}
]}
]},
{"bounds": "flush", "spacing": 0, "vconcat": [
{"width": 272, "height": 25, "view": {"fill": "#CC79A7", "stroke": null}, "data": {"name": "strips"}, "transform": [{"filter": "datum.panel === 'B8'"}], "mark": "text", "encoding": {"text": {"field": "region", "type": "nominal"}}},
{"width": 272, "height": 117, "layer": [
{"data": {"name": "box"}, "transform": [{"filter": "datum.panel === 'B8'"}], "mark": "rule", "encoding": {"y": {"field": "gender", "type": "nominal", "scale": {"domain": ["f","m"], "paddingInner": 0.24, "paddingOuter": 0.22}, "axis": {"title": null, "grid": true, "labels": false, "ticks": false}}, "x": {"field": "lo", "type": "quantitative", "scale": {"domain": [16.0, 72.2], "nice": false, "zero": false}, "axis": {"title": null, "values": [20,25,30,35,40,45,50,55,60,65,70], "grid": true, "gridWidth": {"condition": {"test": "datum.value % 10 === 0", "value": 1.4}, "value": 0.7}, "labelExpr": "datum.value % 10 === 0 ? datum.label : ''", "tickOpacity": {"condition": {"test": "datum.value % 10 === 0", "value": 1}, "value": 0}}}, "x2": {"field": "hi"}}},
{"data": {"name": "box"}, "transform": [{"filter": "datum.panel === 'B8'"}], "mark": "bar", "encoding": {"y": {"field": "gender", "type": "nominal"}, "x": {"field": "q1", "type": "quantitative"}, "x2": {"field": "q3"}, "fill": {"field": "gender", "type": "nominal", "scale": {"domain": ["f","m"], "range": ["#E69F00","#80C4FF"]}, "legend": null}}},
{"data": {"name": "box"}, "transform": [{"filter": "datum.panel === 'B8'"}], "mark": {"type": "tick", "size": 40}, "encoding": {"y": {"field": "gender", "type": "nominal"}, "x": {"field": "med", "type": "quantitative"}}},
{"data": {"name": "out"}, "transform": [{"filter": "datum.panel === 'B8'"}], "mark": "point", "encoding": {"y": {"field": "gender", "type": "nominal"}, "x": {"field": "value", "type": "quantitative"}}}
]}
]}
]}
]}
]}
]
}
]
}
